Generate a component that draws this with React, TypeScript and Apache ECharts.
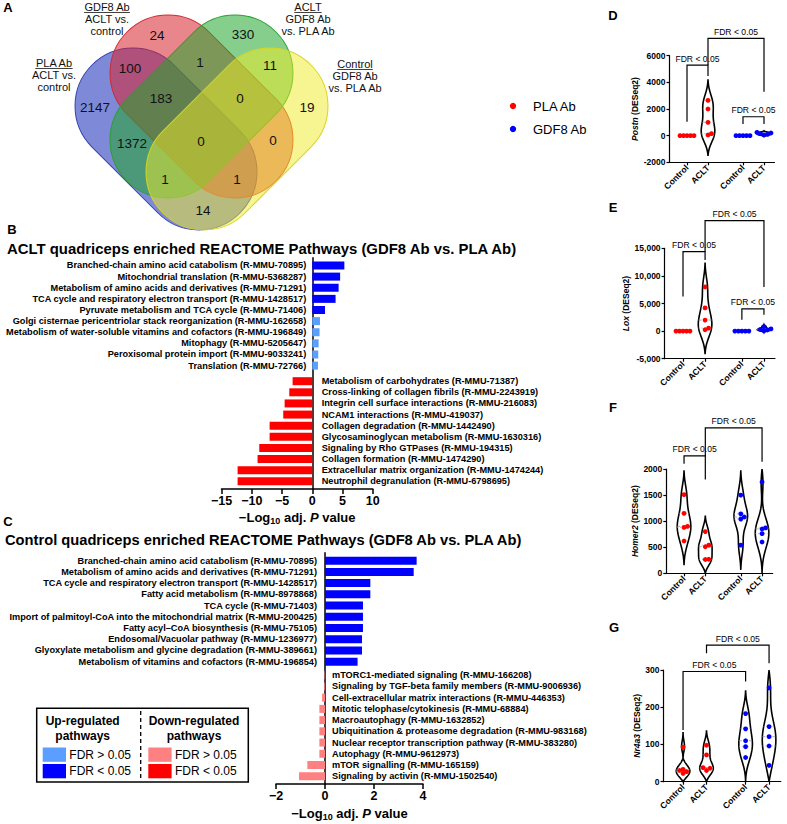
import React, { useEffect, useRef } from "react";
import * as echarts from "echarts";

const FONT = '"Liberation Sans", Arial, Helvetica, sans-serif';

// ---------------- Panel A : Venn ----------------
const vennSetLines = [
  ["PLA Ab", "ACLT vs.", "control"],
  ["GDF8 Ab", "ACLT vs.", "control"],
  ["ACLT", "GDF8 Ab", "vs. PLA Ab"],
  ["Control", "GDF8 Ab", "vs. PLA Ab"],
];
// region counts (order matches vennRegionPos below)
const vennRegionCounts = [2147, 24, 330, 19, 100, 1, 11, 183, 0, 1372, 0, 0, 1, 1, 14];

// ---------------- Panel B ----------------
const bUpLabels = [
  "Branched-chain amino acid catabolism (R-MMU-70895)",
  "Mitochondrial translation (R-MMU-5368287)",
  "Metabolism of amino acids and derivatives (R-MMU-71291)",
  "TCA cycle and respiratory electron transport (R-MMU-1428517)",
  "Pyruvate metabolism and TCA cycle (R-MMU-71406)",
  "Golgi cisternae pericentriolar stack reorganization (R-MMU-162658)",
  "Metabolism of water-soluble vitamins and cofactors (R-MMU-196849)",
  "Mitophagy (R-MMU-5205647)",
  "Peroxisomal protein import (R-MMU-9033241)",
  "Translation (R-MMU-72766)",
];
const bUpValues = [5.3, 4.6, 4.35, 3.85, 2.1, 1.27, 1.2, 1.05, 0.99, 0.94];
const bUpSig = [true, true, true, true, true, false, false, false, false, false];
const bDownLabels = [
  "Metabolism of carbohydrates (R-MMU-71387)",
  "Cross-linking of collagen fibrils (R-MMU-2243919)",
  "Integrin cell surface interactions (R-MMU-216083)",
  "NCAM1 interactions (R-MMU-419037)",
  "Collagen degradation (R-MMU-1442490)",
  "Glycosaminoglycan metabolism (R-MMU-1630316)",
  "Signaling by Rho GTPases (R-MMU-194315)",
  "Collagen formation (R-MMU-1474290)",
  "Extracellular matrix organization (R-MMU-1474244)",
  "Neutrophil degranulation (R-MMU-6798695)",
];
const bDownValues = [-3.25, -3.8, -4.57, -4.8, -7.05, -7.05, -8.76, -9.04, -12.34, -12.34];
const bDownSig = [true, true, true, true, true, true, true, true, true, true];

// ---------------- Panel C ----------------
const cUpLabels = [
  "Branched-chain amino acid catabolism (R-MMU-70895)",
  "Metabolism of amino acids and derivatives (R-MMU-71291)",
  "TCA cycle and respiratory electron transport (R-MMU-1428517)",
  "Fatty acid metabolism (R-MMU-8978868)",
  "TCA cycle (R-MMU-71403)",
  "Import of palmitoyl-CoA into the mitochondrial matrix (R-MMU-200425)",
  "Fatty acyl\u2013CoA biosynthesis (R-MMU-75105)",
  "Endosomal/Vacuolar pathway (R-MMU-1236977)",
  "Glyoxylate metabolism and glycine degradation (R-MMU-389661)",
  "Metabolism of vitamins and cofactors (R-MMU-196854)",
];
const cUpValues = [3.74, 3.62, 1.85, 1.85, 1.55, 1.55, 1.55, 1.51, 1.51, 1.33];
const cUpSig = [true, true, true, true, true, true, true, true, true, true];
const cDownLabels = [
  "mTORC1-mediated signaling (R-MMU-166208)",
  "Signaling by TGF-beta family members (R-MMU-9006936)",
  "Cell-extracellular matrix interactions (R-MMU-446353)",
  "Mitotic telophase/cytokinesis (R-MMU-68884)",
  "Macroautophagy (R-MMU-1632852)",
  "Ubiquitination & proteasome degradation (R-MMU-983168)",
  "Nuclear receptor transcription pathway (R-MMU-383280)",
  "Autophagy (R-MMU-9612973)",
  "mTOR signalling (R-MMU-165159)",
  "Signaling by activin (R-MMU-1502540)",
];
const cDownValues = [-0.02, -0.03, -0.12, -0.23, -0.23, -0.23, -0.23, -0.23, -0.72, -1.06];
const cDownSig = [false, false, false, false, false, false, false, false, false, false];

const legendUpTitle = ["Up-regulated", "pathways"];
const legendDownTitle = ["Down-regulated", "pathways"];
const legendItems = ["FDR > 0.05", "FDR < 0.05"];

// ---------------- Panels D-G ----------------
const groupLabels = ["Control", "ACLT", "Control", "ACLT"];
const treatmentNames = ["PLA Ab", "GDF8 Ab"];

const postnGroups = [
  [0, 0, 0, 0, 0],
  [2650, 2000, 1000, 150, 50],
  [0, 0, 0, 0, 0],
  [250, 200, 150, 100, 50],
];
const loxGroups = [
  [0, 0, 0, 0, 0],
  [8000, 4200, 2000, 550, 250],
  [0, 0, 0, 0, 0],
  [800, 400, 300, 200, 100],
];
const homer2Groups = [
  [1510, 1150, 900, 880, 620],
  [800, 540, 510, 270, 265],
  [1500, 1140, 1080, 1040, 540],
  [1750, 870, 850, 760, 600],
];
const nr4a3Groups = [
  [93, 33, 30, 27, 22],
  [98, 72, 38, 36, 30],
  [183, 142, 110, 94, 65],
  [252, 148, 121, 96, 44],
];
// brackets: [fromGroup, toGroup, topValue, leftLegBottom, rightLegBottom]
const postnBrackets = [
  [0, 1, 5300, 1050, 4470],
  [1, 3, 7300, 5300, 3300],
  [2, 3, 1420, 880, 880],
];
const loxBrackets = [
  [0, 1, 14400, 6270, 12900],
  [1, 3, 20000, 14400, 7970],
  [2, 3, 4040, 2050, 2950],
];
const homer2Brackets = [
  [0, 1, 2250, 2100, 1800],
  [1, 3, 2790, 2250, 2140],
];
const nr4a3Brackets = [
  [0, 2, 296, 139, 269],
  [1, 3, 367, 345, 318],
];
const bracketText = "FDR < 0.05";

// ---------------- styles / layout ----------------
const BLUE = "#0000ff";
const LBLUE = "#5a9eff";
const RED = "#ff0000";
const LRED = "#ff8080";
const DOT_COLORS = [RED, RED, BLUE, BLUE];

const vennRegionPos = [
  [95, 107], [157, 35], [243, 34], [307, 107], [130, 68], [200, 62], [270, 65],
  [161, 98], [240, 98], [132, 143], [201, 141], [273, 140], [165, 179], [237, 179], [203, 210],
];
const vennLabelAnchor = [
  [54, 63], [107, 7], [308, 7], [355, 64],
];
const vennShapes = [
  { cx: 166, cy: 139, w: 209.3, rot: -Math.PI / 4, fill: "rgba(40,60,190,0.6)", stroke: "#3040b0" },
  { cx: 201.5, cy: 106.5, w: 210.7, rot: -Math.PI / 4, fill: "rgba(215,35,45,0.55)", stroke: "#d02a30" },
  { cx: 201.5, cy: 106.5, w: 210.7, rot: Math.PI / 4, fill: "rgba(35,165,45,0.55)", stroke: "#28a030" },
  { cx: 237, cy: 139, w: 209.3, rot: Math.PI / 4, fill: "rgba(240,235,35,0.5)", stroke: "#d8d420" },
];

function textWidth(t: string, font: string) {
  const c = document.createElement("canvas").getContext("2d");
  if (!c) return t.length * 6;
  c.font = font;
  return c.measureText(t).width;
}

function minusFmt(v: number) {
  return v < 0 ? "\u2212" + Math.abs(v) : String(v);
}

function buildBars(upVals: number[], upSig: boolean[], upLabels: string[], downVals: number[], downSig: boolean[], downLabels: string[], gap: number, leftDist: number, rightDist: number) {
  const upSlots = upVals.map((_, i) => 3 + 5 * i);
  const downStart = upSlots[upSlots.length - 1] + gap;
  const downSlots = downVals.map((_, j) => downStart + 5 * j);
  const n = downSlots[downSlots.length - 1] + 4;
  const data: any[] = new Array(n).fill("-");
  const labels: string[] = new Array(n).fill("");
  upVals.forEach((v, i) => {
    data[upSlots[i]] = { value: v, itemStyle: { color: upSig[i] ? BLUE : LBLUE }, label: { position: "left", distance: leftDist } };
    labels[upSlots[i]] = upLabels[i];
  });
  downVals.forEach((v, j) => {
    data[downSlots[j]] = { value: v, itemStyle: { color: downSig[j] ? RED : LRED }, label: { position: "right", distance: rightDist } };
    labels[downSlots[j]] = downLabels[j];
  });
  const cats = Array.from({ length: n }, (_, i) => String(i));
  return { data, labels, cats };
}

// Gaussian KDE, truncated to the axis range; a linear baseline through the two end
// densities is removed so the outline closes to a point at both ends.
function kde(vals: number[], lowLimit: number, highLimit: number) {
  const n = vals.length;
  const mean = vals.reduce((a, b) => a + b, 0) / n;
  const sd = Math.sqrt(vals.reduce((a, b) => a + (b - mean) * (b - mean), 0) / (n - 1));
  if (!(sd > 0)) return null;
  const bw = 1.06 * sd * Math.pow(n, -0.2) * 0.75;
  const lo = Math.max(lowLimit, Math.min(...vals) - 2.4 * bw);
  const hi = Math.min(highLimit, Math.max(...vals) + 2.4 * bw);
  const raw = (y: number) => vals.reduce((s, v) => s + Math.exp(-0.5 * ((y - v) / bw) ** 2), 0);
  const dLo = raw(lo);
  const dHi = raw(hi);
  const dens = (y: number) => Math.max(0, raw(y) - (dLo * (hi - y) + dHi * (y - lo)) / (hi - lo));
  const ys: number[] = [];
  const ds: number[] = [];
  let mx = 0;
  const N = 90;
  for (let i = 0; i <= N; i++) {
    const y = lo + ((hi - lo) * i) / N;
    const d = dens(y);
    ys.push(y);
    ds.push(d);
    if (d > mx) mx = d;
  }
  return { ys, ds, mx, dens };
}

function quantile(sorted: number[], q: number) {
  const pos = (sorted.length - 1) * q;
  const lo = Math.floor(pos);
  const hi = Math.ceil(pos);
  return sorted[lo] + (sorted[hi] - sorted[lo]) * (pos - lo);
}

function swarm(ys: number[], step: number) {
  const order = ys.map((_, i) => i).sort((a, b) => ys[b] - ys[a]);
  const placed: number[][] = [];
  const offs = new Array(ys.length).fill(0);
  for (const i of order) {
    for (let k = 0; k < 30; k++) {
      const m = k === 0 ? 0 : (k % 2 ? 1 : -1) * Math.ceil(k / 2) * step;
      if (placed.every(([px, py]) => Math.hypot(px - m, py - ys[i]) >= step - 1e-6)) {
        offs[i] = m;
        placed.push([m, ys[i]]);
        break;
      }
    }
  }
  return offs;
}

const HW = 6.8;

function violinRender(groups: number[][], lowLimit: number, highLimit: number) {
  return (params: any, api: any) => {
    const gi = params.dataIndex;
    const vals = groups[gi];
    const slot = api.value(0);
    const cx = api.coord([slot, 0])[0];
    const children: any[] = [];
    const k = kde(vals, lowLimit, highLimit);
    if (k) {
      const right: number[][] = [];
      const left: number[][] = [];
      for (let i = 0; i < k.ys.length; i++) {
        const py = api.coord([slot, k.ys[i]])[1];
        const hw = (k.ds[i] / k.mx) * HW;
        right.push([cx + hw, py]);
        left.push([cx - hw, py]);
      }
      children.push({
        type: "polygon",
        shape: { points: right.concat(left.reverse()) },
        style: { fill: "none", stroke: "#000", lineWidth: 1.6 },
      });
      const sorted = [...vals].sort((a, b) => a - b);
      const qs: [number, number[]][] = [[0.25, [1, 2]], [0.5, [3, 2]], [0.75, [1, 2]]];
      qs.forEach(([q, dash]) => {
        const v = quantile(sorted, q);
        const hw = (k.dens(v) / k.mx) * HW;
        const py = api.coord([slot, v])[1];
        children.push({
          type: "line",
          shape: { x1: cx - hw, y1: py, x2: cx + hw, y2: py },
          style: { stroke: "#9a9a9a", lineWidth: 0.8, lineDash: dash },
        });
      });
    }
    const pys = vals.map((v) => api.coord([slot, v])[1]);
    const offs = swarm(pys, 3.5);
    vals.forEach((_, i) =>
      children.push({ type: "circle", shape: { cx: cx + offs[i], cy: pys[i], r: 2.4 }, style: { fill: DOT_COLORS[gi] } })
    );
    return { type: "group", children };
  };
}

function bracketRender(params: any, api: any) {
  const x1 = api.value(0);
  const x2 = api.value(1);
  const top = api.value(2);
  const lb = api.value(3);
  const rb = api.value(4);
  const p1 = api.coord([x1, lb]);
  const p2 = api.coord([x1, top]);
  const p3 = api.coord([x2, top]);
  const p4 = api.coord([x2, rb]);
  return {
    type: "group",
    children: [
      { type: "polyline", shape: { points: [p1, p2, p3, p4] }, style: { stroke: "#000", lineWidth: 1.2, fill: "none" } },
      {
        type: "text",
        style: {
          text: bracketText, x: (p2[0] + p3[0]) / 2, y: p2[1] - 2, align: "center", verticalAlign: "bottom",
          fontSize: 8.6, fontFamily: FONT, fill: "#000",
        },
      },
    ],
  };
}

const COL_SLOTS = [2, 5, 10, 13];
const N_SLOTS = 15;

function buildOption() {
  const B = buildBars(bUpValues, bUpSig, bUpLabels, bDownValues, bDownSig, bDownLabels, 7, 6, 9.4);
  const C = buildBars(cUpValues, cUpSig, cUpLabels, cDownValues, cDownSig, cDownLabels, 6, 8, 7);

  const grids: any[] = [
    { left: 221.5, top: 257.7, width: 151.3, height: 231.4 },
    { left: 276, top: 552.8, width: 147, height: 231.3 },
    { left: 669.5, top: 55.7, width: 105, height: 106.6 },
    { left: 664.6, top: 248.3, width: 110.4, height: 110.4 },
    { left: 666.3, top: 469, width: 106.4, height: 104.3 },
    { left: 663.5, top: 670, width: 117.3, height: 111.7 },
  ].map((g) => ({ ...g, containLabel: false, outerBoundsMode: "none" }));

  const axisLine = { color: "#000", width: 1.5 };
  const logName = "{a|\u2212Log}{s|10}{a| adj. }{i|P}{a| value}";
  const logRich = {
    a: { fontSize: 13, fontWeight: "bold", color: "#000", fontFamily: FONT },
    s: { fontSize: 9, fontWeight: "bold", color: "#000", fontFamily: FONT, padding: [7, 0, 0, 0] },
    i: { fontSize: 13, fontWeight: "bold", fontStyle: "italic", color: "#000", fontFamily: FONT },
  };

  const barX = (gridIndex: number, min: number, max: number, interval: number, nameGap: number) => ({
    gridIndex, type: "value", min, max, interval,
    axisLine: { show: true, onZero: false, lineStyle: axisLine },
    axisTick: { show: true, length: 5, lineStyle: axisLine },
    axisLabel: { fontSize: 12.5, fontWeight: "bold", color: "#000", margin: 5, formatter: minusFmt, fontFamily: FONT },
    splitLine: { show: false },
    name: logName, nameLocation: "middle", nameGap, nameTextStyle: { rich: logRich },
  });
  const barY = (gridIndex: number, cats: string[]) => ({
    gridIndex, type: "category", inverse: true, data: cats,
    axisLine: { show: true, onZero: true, lineStyle: axisLine },
    axisTick: { show: false }, axisLabel: { show: false }, splitLine: { show: false },
  });

  const slotCats = Array.from({ length: N_SLOTS }, (_, i) => String(i));
  const slotLabel = (i: number) => {
    const k = COL_SLOTS.indexOf(i);
    return k >= 0 ? groupLabels[k] : "";
  };
  const thin = { color: "#000", width: 1.2 };
  const vX = (gridIndex: number) => ({
    gridIndex, type: "category", data: slotCats,
    axisLine: { show: true, onZero: false, lineStyle: thin },
    axisTick: { show: true, alignWithLabel: true, length: 3, lineStyle: thin, interval: (i: number) => COL_SLOTS.includes(i) },
    axisLabel: {
      interval: (i: number) => COL_SLOTS.includes(i), formatter: (_v: string, i: number) => slotLabel(i),
      rotate: 45, fontSize: 8.6, fontWeight: "bold", color: "#000", margin: 4, fontFamily: FONT,
    },
    splitLine: { show: false },
  });
  const vY = (gridIndex: number, min: number, max: number, interval: number, gene: string, nameGap: number, sep: boolean) => ({
    gridIndex, type: "value", min, max, interval,
    axisLine: { show: true, onZero: false, lineStyle: thin },
    axisTick: { show: true, length: 3, lineStyle: thin },
    axisLabel: {
      fontSize: 8.5, fontWeight: "bold", color: "#000", margin: 4, fontFamily: FONT,
      formatter: (v: number) => (sep ? v.toLocaleString("en-US") : String(v)),
    },
    splitLine: { show: false },
    name: "{i|" + gene + "}{n| (DESeq2)}", nameLocation: "middle", nameGap,
    nameTextStyle: {
      rich: {
        i: { fontSize: 8.5, fontWeight: "bold", fontStyle: "italic", color: "#000", fontFamily: FONT },
        n: { fontSize: 8.5, fontWeight: "bold", color: "#000", fontFamily: FONT },
      },
    },
  });

  const xAxis = [
    barX(0, -15, 10, 5, 20),
    barX(1, -2, 4, 2, 21),
    vX(2), vX(3), vX(4), vX(5),
  ];
  const yAxis = [
    barY(0, B.cats),
    barY(1, C.cats),
    vY(2, -2000, 6000, 2000, "Postn", 24, false),
    vY(3, -5000, 15000, 5000, "Lox", 31, true),
    vY(4, 0, 2000, 500, "Homer2", 22, false),
    vY(5, 0, 300, 100, "Nr4a3", 20, false),
  ];

  const barSeries = (idx: number, S: any) => ({
    type: "bar", xAxisIndex: idx, yAxisIndex: idx, barWidth: 8, data: S.data,
    label: {
      show: true, fontSize: 9.2, fontWeight: "bold", color: "#000", fontFamily: FONT,
      formatter: (p: any) => S.labels[p.dataIndex],
    },
    emphasis: { disabled: true },
  });

  const panels = [
    { g: postnGroups, br: postnBrackets, low: -2000, high: 6000 },
    { g: loxGroups, br: loxBrackets, low: -5000, high: 15000 },
    { g: homer2Groups, br: homer2Brackets, low: 0, high: 2000 },
    { g: nr4a3Groups, br: nr4a3Brackets, low: 0, high: 300 },
  ];
  const violinSeries: any[] = [];
  panels.forEach((p, k) => {
    violinSeries.push({
      type: "custom", xAxisIndex: k + 2, yAxisIndex: k + 2, clip: false,
      data: p.g.map((_, i) => [COL_SLOTS[i], 0]),
      renderItem: violinRender(p.g, p.low, p.high), silent: true,
    });
    violinSeries.push({
      type: "custom", xAxisIndex: k + 2, yAxisIndex: k + 2, clip: false,
      data: p.br.map((b) => [COL_SLOTS[b[0]], COL_SLOTS[b[1]], b[2], b[3], b[4]]),
      encode: { x: [0, 1], y: [2, 3, 4] },
      renderItem: bracketRender, silent: true,
    });
  });

  // ---------- graphic ----------
  const graphic: any[] = [];
  vennShapes.forEach((s) => {
    graphic.push({
      type: "rect", x: s.cx, y: s.cy, rotation: s.rot, silent: true,
      shape: { x: -s.w / 2, y: -58, width: s.w, height: 116, r: 58 },
      style: { fill: s.fill, stroke: s.stroke, lineWidth: 1 },
    });
  });
  vennRegionCounts.forEach((c, i) => {
    graphic.push({
      type: "text", x: vennRegionPos[i][0], y: vennRegionPos[i][1], silent: true,
      style: { text: String(c), align: "center", verticalAlign: "middle", fontSize: 13.5, fontFamily: FONT, fill: "#111" },
    });
  });
  const vennFont = '11px "Liberation Sans", Arial, sans-serif';
  vennSetLines.forEach((lines, i) => {
    const [ax, ay] = vennLabelAnchor[i];
    lines.forEach((t, j) => {
      graphic.push({
        type: "text", x: ax, y: ay + j * 12, silent: true,
        style: { text: t, align: "center", verticalAlign: "middle", fontSize: 11, fontFamily: FONT, fill: "#111" },
      });
    });
    const w = textWidth(lines[0], vennFont);
    graphic.push({
      type: "line", silent: true,
      shape: { x1: ax - w / 2, y1: ay + 5.5, x2: ax + w / 2, y2: ay + 5.5 },
      style: { stroke: "#111", lineWidth: 0.8 },
    });
  });

  // panel letters
  const letters: [string, number, number][] = [
    ["A", 8, 7], ["B", 12, 229], ["C", 8, 521], ["D", 613, 15], ["E", 613, 207], ["F", 613, 407], ["G", 614, 627],
  ];
  letters.forEach(([t, x, y]) =>
    graphic.push({
      type: "text", x, y, silent: true,
      style: { text: t, align: "center", verticalAlign: "middle", fontSize: 13, fontWeight: "bold", fontFamily: FONT, fill: "#000" },
    })
  );

  // titles
  graphic.push({
    type: "text", x: 7, y: 249, silent: true,
    style: { text: "ACLT quadriceps enriched REACTOME Pathways (GDF8 Ab vs. PLA Ab)", verticalAlign: "middle", fontSize: 14.9, fontWeight: "bold", fontFamily: FONT, fill: "#000" },
  });
  graphic.push({
    type: "text", x: 5, y: 540, silent: true,
    style: { text: "Control quadriceps enriched REACTOME Pathways (GDF8 Ab vs. PLA Ab)", verticalAlign: "middle", fontSize: 14.7, fontWeight: "bold", fontFamily: FONT, fill: "#000" },
  });

  // legend D-G
  treatmentNames.forEach((t, i) => {
    graphic.push({ type: "circle", silent: true, shape: { cx: 513, cy: 106 + i * 23, r: 3.2 }, style: { fill: i === 0 ? RED : BLUE } });
    graphic.push({
      type: "text", x: 533, y: 106 + i * 23, silent: true,
      style: { text: t, verticalAlign: "middle", fontSize: 13, fontFamily: FONT, fill: "#000" },
    });
  });

  // legend box in C
  graphic.push({ type: "rect", silent: true, shape: { x: 36.7, y: 708.3, width: 211.6, height: 73.7 }, style: { fill: "none", stroke: "#000", lineWidth: 1.5 } });
  graphic.push({ type: "line", silent: true, shape: { x1: 140.7, y1: 711, x2: 140.7, y2: 780 }, style: { stroke: "#000", lineWidth: 1.3, lineDash: [4, 3] } });
  [legendUpTitle, legendDownTitle].forEach((lines, c) => {
    lines.forEach((t, j) =>
      graphic.push({
        type: "text", x: c === 0 ? 82.7 : 194, y: 721 + j * 15, silent: true,
        style: { text: t, align: "center", verticalAlign: "middle", fontSize: 12, fontWeight: "bold", fontFamily: FONT, fill: "#000" },
      })
    );
  });
  const swatch = [[LBLUE, BLUE], [LRED, RED]];
  [42.7, 148.3].forEach((x, c) => {
    legendItems.forEach((t, j) => {
      const y = 747.5 + j * 16.5;
      graphic.push({ type: "rect", silent: true, shape: { x, y, width: 23.3, height: 14.3 }, style: { fill: swatch[c][j] } });
      graphic.push({
        type: "text", x: x + 26.6, y: y + 7.3, silent: true,
        style: { text: t, verticalAlign: "middle", fontSize: 12, fontFamily: FONT, fill: "#000" },
      });
    });
  });

  return {
    animation: false,
    backgroundColor: "#fff",
    textStyle: { fontFamily: FONT },
    grid: grids,
    xAxis,
    yAxis,
    series: [barSeries(0, B), barSeries(1, C), ...violinSeries],
    graphic,
  };
}

export default function App() {
  const ref = useRef<HTMLDivElement>(null);
  useEffect(() => {
    if (!ref.current) return;
    const chart = echarts.init(ref.current, undefined, { renderer: "svg", width: 787, height: 824 });
    chart.setOption(buildOption() as any);
    return () => chart.dispose();
  }, []);
  return (
    <div
      ref={ref}
      style={{ position: "fixed", left: 0, top: 0, width: 787, height: 824, background: "#fff" }}
    />
  );
}
